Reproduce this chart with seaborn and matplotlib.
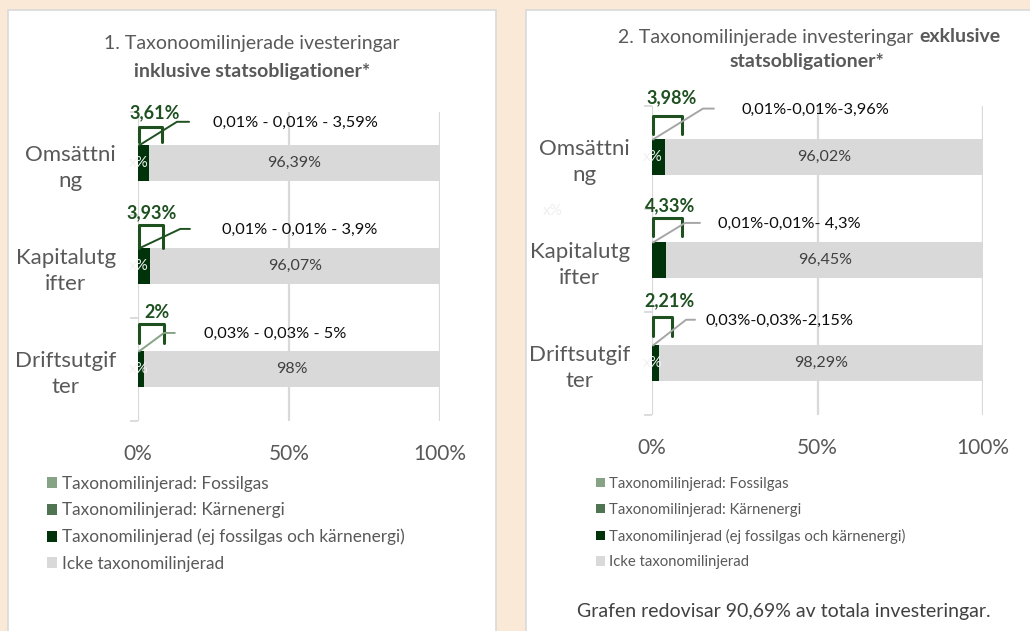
import numpy as np
import pandas as pd
import seaborn as sns
import matplotlib.pyplot as plt
from matplotlib.patches import Rectangle, Patch

# -----------------------------------
# Configuration
# -----------------------------------
sns.set_theme(style='white')
plt.rcParams['font.family'] = ['Lato', 'DejaVu Sans']

BG = '#FBE9D8'
GRID = '#D9D9D9'
TXT = '#595959'
COLORS = ['#86A386', '#4F7451', '#00330A', '#D9D9D9']
GREEN = '#1E5020'

# -----------------------------------
# Data
# -----------------------------------
categories = ['Omsättning', 'Kapitalutgifter', 'Driftsutgifter']
tick_labels = ['Omsättni\nng', 'Kapitalutg\nifter', 'Driftsutgif\nter']
series = ['Taxonomilinjerad: Fossilgas',
          'Taxonomilinjerad: Kärnenergi',
          'Taxonomilinjerad (ej fossilgas och kärnenergi)',
          'Icke taxonomilinjerad']

# 1. inklusive statsobligationer
fossil_1 = [0.01, 0.01, 0.03]
karn_1 = [0.01, 0.01, 0.03]
taxo_1 = [3.59, 3.90, 1.94]
icke_1 = [96.39, 96.07, 98.0]
total_1 = ['3,61%', '3,93%', '2%']
split_1 = ['0,01% - 0,01% - 3,59%', '0,01% - 0,01% - 3,9%', '0,03% - 0,03% - 5%']
icke_lbl_1 = ['96,39%', '96,07%', '98%']

# 2. exklusive statsobligationer
fossil_2 = [0.01, 0.01, 0.03]
karn_2 = [0.01, 0.01, 0.03]
taxo_2 = [3.96, 4.30, 2.15]
icke_2 = [96.02, 96.45, 98.29]
total_2 = ['3,98%', '4,33%', '2,21%']
split_2 = ['0,01%-0,01%-3,96%', '0,01%-0,01%- 4,3%', '0,03%-0,03%-2,15%']
icke_lbl_2 = ['96,02%', '96,45%', '98,29%']

xticks = [0, 50, 100]
xtick_labels = ['0%', '50%', '100%']

# annotation geometry (x in %, y offset in category units)
# total label (x, dy), bracket (x right, dy top, dy bottom),
# leader (x mid, dy mid, x end), split label (x, dy), leader colour
geo_1 = [
    dict(t=(5.6, -0.49), b=(8.0, -0.35, -0.20), l=(12.9, -0.40, 16.9), s=(24.8, -0.39), c=GREEN),
    dict(t=(4.6, -0.52), b=(8.3, -0.40, -0.17), l=(14.0, -0.36, 17.2), s=(27.8, -0.35), c=GREEN),
    dict(t=(6.3, -0.55), b=(8.6, -0.44, -0.25), l=(8.6, -0.35, 12.2), s=(21.9, -0.34), c='#86A386'),
]
geo_2 = [
    dict(t=(6.0, -0.58), b=(9.1, -0.40, -0.22), l=(15.4, -0.47, 18.7), s=(26.9, -0.46), c='#A6A6A6'),
    dict(t=(5.4, -0.53), b=(9.1, -0.41, -0.23), l=(10.0, -0.36, 14.5), s=(19.9, -0.35), c='#A6A6A6'),
    dict(t=(5.4, -0.60), b=(6.0, -0.45, -0.26), l=(10.3, -0.42, 13.0), s=(16.3, -0.41), c='#A6A6A6'),
]

# -----------------------------------
# Figure
# -----------------------------------
fig = plt.figure(figsize=(10.3, 6.31), dpi=100, facecolor=BG)

# white panels
for x0, x1 in [(8, 496), (526, 1040)]:
    fig.add_artist(Rectangle((x0 / 1030, -0.02), (x1 - x0) / 1030, 1 - 10 / 631 + 0.02,
                             transform=fig.transFigure, facecolor='white',
                             edgecolor=GRID, lw=1.2, zorder=-5))


def draw_panel(ax, fossil, karn, taxo, icke, totals, splits, icke_lbls, geo, white_x):
    c1 = np.array(fossil)
    c2 = c1 + np.array(karn)
    c3 = c2 + np.array(taxo)
    c4 = c3 + np.array(icke)
    df = pd.DataFrame({'cat': categories, 'c1': c1, 'c2': c2, 'c3': c3, 'c4': c4})

    # stacked by overlaying cumulative sums
    for col, color in zip(['c4', 'c3', 'c2', 'c1'], COLORS[::-1]):
        sns.barplot(data=df, x=col, y='cat', orient='h', color=color,
                    width=0.34, saturation=1, errorbar=None, linewidth=0, ax=ax)

    ax.set_xlim(0, 100)
    ax.set_ylim(2.5, -0.5)
    ax.set_facecolor('none')
    ax.set_xticks(xticks)
    ax.set_xticklabels(xtick_labels)
    ax.set_yticks(range(len(categories)))
    ax.set_yticklabels(tick_labels, multialignment='center', linespacing=1.4)
    ax.set_yticks([-0.5, 0.5, 1.5, 2.5], minor=True)
    ax.tick_params(axis='x', length=0, pad=17, labelsize=15, labelcolor=TXT)
    ax.tick_params(axis='y', which='major', length=0, pad=16, labelsize=16, labelcolor=TXT)
    ax.tick_params(axis='y', which='minor', left=True, length=6, width=1.3, color=GRID)
    ax.set(xlabel='', ylabel='')
    ax.grid(axis='x', color=GRID, lw=1.6)
    ax.grid(axis='y', visible=False)
    ax.set_axisbelow(True)
    for s in ax.spines.values():
        s.set_visible(False)

    for i in range(len(categories)):
        # label inside grey segment
        ax.text((c3[i] + min(c4[i], 100)) / 2, i, icke_lbls[i], ha='center', va='center',
                fontsize=11.5, color='#404040')
        g = geo[i]
        # bracket
        bx, bt, bb = g['b']
        ax.plot([0.3, 0.3, bx, bx], [i + bb, i + bt, i + bt, i + bb],
                color=GREEN, lw=2.2, solid_joinstyle='round', clip_on=False)
        # leader line
        lx, ly, le = g['l']
        ax.plot([0.3, lx, le], [i - 0.17, i + ly, i + ly], color=g['c'], lw=1.4, clip_on=False)
        # totals and splits
        ax.text(g['t'][0], i + g['t'][1], totals[i], ha='center', va='center',
                fontsize=13, fontweight='bold', color=GREEN)
        ax.text(g['s'][0], i + g['s'][1], splits[i], ha='left', va='center',
                fontsize=11.8, color='#0D0D0D')
        if white_x[i]:
            ax.text(0.2, i, 'x%', ha='center', va='center', fontsize=11, color='#F2F2F2')


ax1 = fig.add_axes([138 / 1030, 1 - 420.5 / 631, 302 / 1030, 309 / 631])
draw_panel(ax1, fossil_1, karn_1, taxo_1, icke_1, total_1, split_1, icke_lbl_1, geo_1,
           [True, True, True])

ax2 = fig.add_axes([652 / 1030, 1 - 414.5 / 631, 331 / 1030, 309 / 631])
draw_panel(ax2, fossil_2, karn_2, taxo_2, icke_2, total_2, split_2, icke_lbl_2, geo_2,
           [True, False, True])

# titles
fig.text(252 / 1030, 1 - 44 / 631, '1. Taxonoomilinjerade ivesteringar', ha='center',
         va='center', fontsize=14, color=TXT)
fig.text(252 / 1030, 1 - 71 / 631, 'inklusive statsobligationer*', ha='center',
         va='center', fontsize=14, color=TXT, fontweight='bold')
fig.text(913 / 1030, 1 - 37 / 631, '2. Taxonomilinjerade investeringar', ha='right',
         va='center', fontsize=14, color=TXT)
fig.text(919 / 1030, 1 - 37 / 631, 'exklusive', ha='left',
         va='center', fontsize=14, color=TXT, fontweight='bold')
fig.text(807 / 1030, 1 - 62 / 631, 'statsobligationer*', ha='center',
         va='center', fontsize=14, color=TXT, fontweight='bold')

# stray label
fig.text(553 / 1030, 1 - 211 / 631, 'x%', ha='center', va='center', fontsize=11, color='#EFEFEF')

# legends
handles = [Patch(facecolor=c, edgecolor='none') for c in COLORS]
fig.legend(handles, series, loc='upper left', bbox_to_anchor=(47 / 1030, 1 - 476 / 631),
           frameon=False, fontsize=12.4, labelcolor=TXT, handlelength=0.6,
           handleheight=0.6, handletextpad=0.28, labelspacing=0.6, borderpad=0,
           borderaxespad=0)
fig.legend(handles, series, loc='upper left', bbox_to_anchor=(596 / 1030, 1 - 477 / 631),
           frameon=False, fontsize=10.7, labelcolor=TXT, handlelength=0.6,
           handleheight=0.6, handletextpad=0.27, labelspacing=0.79, borderpad=0,
           borderaxespad=0)

# footer
fig.text(784 / 1030, 1 - 612 / 631, 'Grafen redovisar 90,69% av totala investeringar.',
         ha='center', va='center', fontsize=14, color='#404040')

fig.savefig('out.png', dpi=100, facecolor=BG)
